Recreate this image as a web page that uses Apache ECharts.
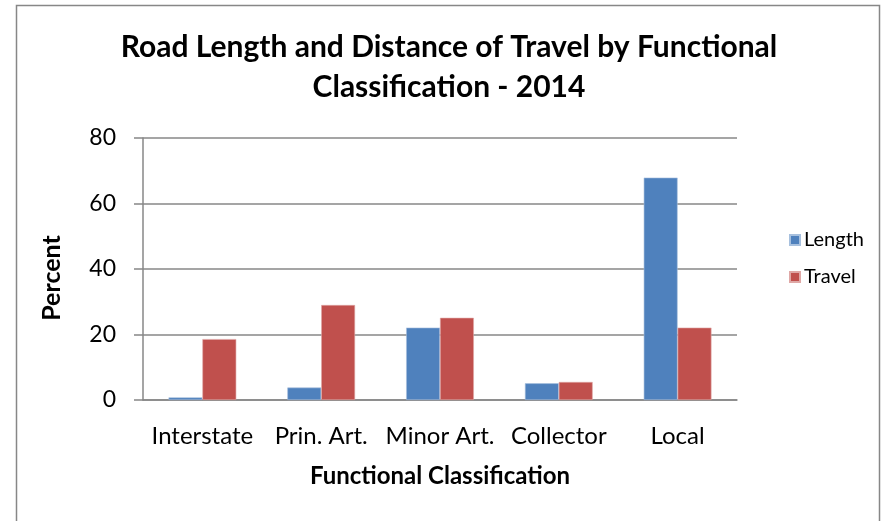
<!DOCTYPE html>
<html>
<head>
<meta charset="utf-8">
<script src="https://cdn.jsdelivr.net/npm/echarts@6/dist/echarts.min.js"></script>
<style>
html,body{margin:0;padding:0;background:#fff;}
#chart{width:884px;height:521px;}
</style>
</head>
<body>
<div id="chart"></div>
<script>
var categories = ['Interstate', 'Prin. Art.', 'Minor Art.', 'Collector', 'Local'];
var lengthValues = [0.8, 3.8, 22.1, 5.1, 67.9];
var travelValues = [18.6, 29.0, 25.1, 5.5, 22.1];
var yTicks = [0, 20, 40, 60, 80];

var FONT = 'Lato';
var chart = echarts.init(document.getElementById('chart'), null, {renderer: 'canvas'});
chart.setOption({
  backgroundColor: '#ffffff',
  animation: false,
  graphic: [{
    type: 'rect',
    shape: {x: 16.5, y: 5.5, width: 863, height: 530},
    style: {fill: 'none', stroke: '#878787', lineWidth: 1.5},
    silent: true
  }],
  title: {
    text: 'Road Length and Distance of Travel by Functional\nClassification - 2014',
    left: 449, top: 27, textAlign: 'center', padding: 0,
    textStyle: {fontFamily: FONT, fontWeight: 'bold', fontSize: 30, lineHeight: 40, color: '#000'}
  },
  legend: {
    orient: 'vertical',
    left: 789, top: 229, padding: 0,
    itemWidth: 10, itemHeight: 10, itemGap: 15,
    icon: 'rect',
    textStyle: {fontFamily: FONT, fontSize: 20, lineHeight: 22, color: '#000', padding: [0,0,0,-1]},
    data: ['Length', 'Travel']
  },
  grid: {left: 143, right: 147, top: 138, bottom: 121},
  xAxis: {
    type: 'category',
    data: categories,
    name: 'Functional Classification',
    nameLocation: 'middle', nameGap: 64,
    nameTextStyle: {fontFamily: FONT, fontWeight: 'bold', fontSize: 24, color: '#000'},
    axisLine: {lineStyle: {color: '#878787', width: 1.5}},
    axisTick: {show: false},
    axisLabel: {fontFamily: FONT, fontSize: 24, color: '#000', margin: 24, interval: 0}
  },
  yAxis: {
    type: 'value',
    min: yTicks[0], max: yTicks[yTicks.length - 1], interval: 20,
    name: 'Percent',
    nameLocation: 'middle', nameGap: 91, nameRotate: 90,
    nameTextStyle: {fontFamily: FONT, fontWeight: 'bold', fontSize: 25, color: '#000', verticalAlign: 'middle', padding: [0, 18, 0, 0]},
    axisLine: {show: true, lineStyle: {color: '#878787', width: 1.5}},
    axisTick: {show: true, length: 9, lineStyle: {color: '#878787', width: 1.5}},
    splitLine: {lineStyle: {color: '#878787', width: 1.5}},
    axisLabel: {fontFamily: FONT, fontSize: 23, color: '#000', margin: 27}
  },
  series: [{
    name: 'Length', type: 'bar', data: lengthValues,
    barGap: '0%', barCategoryGap: '43%',
    itemStyle: {color: '#4F81BD', borderColor: '#a7c0de', borderWidth: 0.6}
  }, {
    name: 'Travel', type: 'bar', data: travelValues,
    itemStyle: {color: '#C0504D', borderColor: '#dfa8a6', borderWidth: 0.6}
  }]
});
</script>
</body>
</html>
